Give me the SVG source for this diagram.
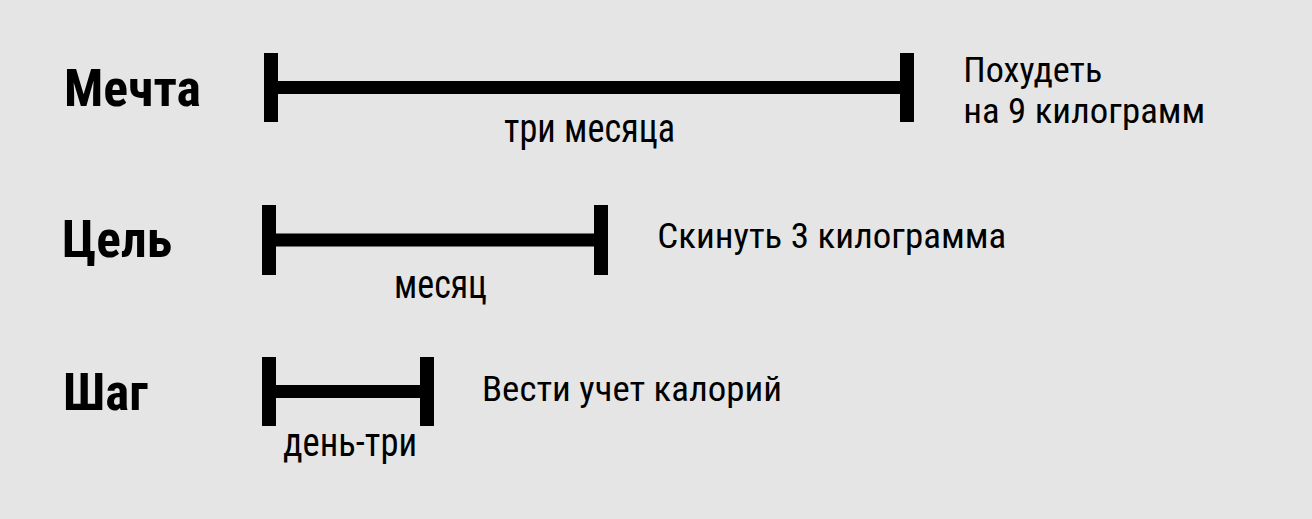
<svg xmlns="http://www.w3.org/2000/svg" width="1312" height="519" viewBox="0 0 1312 519">
  <style>
    .bg { fill: #e5e5e5; }
    .bar { fill: #000; }
    .title { font-family: "Roboto Condensed", Roboto, "Liberation Sans", sans-serif; font-weight: 700; font-size: 52px; fill: #000; }
    .span { font-family: "Roboto Condensed", Roboto, "Liberation Sans", sans-serif; font-weight: 400; font-size: 40px; fill: #000; }
    .desc { font-family: "Roboto Condensed", Roboto, "Liberation Sans", sans-serif; font-weight: 400; font-size: 35px; fill: #000; }
  </style>
  <rect class="bg" x="0" y="0" width="1312" height="519"/>

  <g id="connectors">
    <g id="bar-dream">
      <rect class="bar" x="264" y="53" width="14" height="69"/>
      <rect class="bar" x="277" y="81" width="624" height="13"/>
      <rect class="bar" x="900" y="53" width="14" height="69"/>
    </g>
    <g id="bar-goal">
      <rect class="bar" x="262" y="205" width="14" height="70"/>
      <rect class="bar" x="275" y="233.5" width="320" height="13"/>
      <rect class="bar" x="594" y="205" width="14" height="70"/>
    </g>
    <g id="bar-step">
      <rect class="bar" x="262" y="357" width="14" height="69"/>
      <rect class="bar" x="275" y="385" width="146" height="13"/>
      <rect class="bar" x="420" y="357" width="14" height="69"/>
    </g>
  </g>

  <g id="node-dream">
    <text class="title" x="64" y="105.7" textLength="137" lengthAdjust="spacingAndGlyphs">Мечта</text>
    <text class="span" x="504" y="142.3" textLength="171" lengthAdjust="spacingAndGlyphs">три месяца</text>
    <text class="desc" x="963.3" y="81.7" textLength="139" lengthAdjust="spacingAndGlyphs">Похудеть</text>
    <text class="desc" x="963.3" y="123.3" textLength="242" lengthAdjust="spacingAndGlyphs">на 9 килограмм</text>
  </g>

  <g id="node-goal">
    <text class="title" x="62" y="256.7" textLength="110" lengthAdjust="spacingAndGlyphs">Цель</text>
    <text class="span" x="394" y="298.3" textLength="93" lengthAdjust="spacingAndGlyphs">месяц</text>
    <text class="desc" x="657.3" y="248.3" textLength="349" lengthAdjust="spacingAndGlyphs">Скинуть 3 килограмма</text>
  </g>

  <g id="node-step">
    <text class="title" x="63" y="410.3" textLength="85" lengthAdjust="spacingAndGlyphs">Шаг</text>
    <text class="span" x="283" y="455.7" textLength="134" lengthAdjust="spacingAndGlyphs">день-три</text>
    <text class="desc" x="482" y="400.5" textLength="300" lengthAdjust="spacingAndGlyphs">Вести учет калорий</text>
  </g>
</svg>
